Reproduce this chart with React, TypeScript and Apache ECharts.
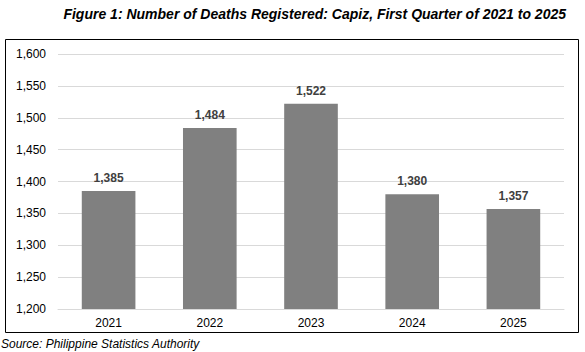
import React, { useEffect, useRef } from "react";
import * as echarts from "echarts";

const categories = ["2021", "2022", "2023", "2024", "2025"];
const deaths = [1385, 1484, 1522, 1380, 1357];
const titleText = "Figure 1: Number of Deaths Registered: Capiz, First Quarter of 2021 to 2025";
const sourceText = "Source: Philippine Statistics Authority";

const FONT = "Arial, 'Liberation Sans', sans-serif";

export default function App() {
  const ref = useRef<HTMLDivElement>(null);
  useEffect(() => {
    if (!ref.current) return;
    const chart = echarts.init(ref.current, null, { renderer: "svg" });
    chart.setOption({
      animation: false,
      backgroundColor: "#ffffff",
      textStyle: { fontFamily: FONT },
      grid: { left: 58, right: 21, top: 54, bottom: 43 },
      xAxis: {
        type: "category",
        data: categories,
        axisLine: { show: true, lineStyle: { color: "#d9d9d9", width: 1 } },
        axisTick: { show: false },
        axisLabel: { color: "#000000", fontSize: 12, fontFamily: FONT, margin: 8 },
      },
      yAxis: {
        type: "value",
        min: 1200,
        max: 1600,
        interval: 50,
        axisLine: { show: false },
        axisTick: { show: false },
        splitLine: { lineStyle: { color: "#d9d9d9", width: 1 } },
        axisLabel: {
          color: "#000000",
          fontSize: 12,
          fontFamily: FONT,
          margin: 12,
          formatter: (v: number) => v.toLocaleString("en-US"),
        },
      },
      series: [
        {
          type: "bar",
          data: deaths,
          barWidth: "53%",
          itemStyle: { color: "#808080" },
          label: {
            show: true,
            position: "top",
            distance: 7,
            color: "#404040",
            fontWeight: "bold",
            fontSize: 12,
            fontFamily: FONT,
            formatter: (p: any) => Number(p.value).toLocaleString("en-US"),
          },
        },
      ],
      graphic: [
        {
          type: "rect",
          shape: { x: 5.5, y: 39.5, width: 573, height: 293 },
          style: { fill: "none", stroke: "#000000", lineWidth: 1 },
          silent: true,
        },
        {
          type: "text",
          x: 566,
          y: 14,
          style: {
            text: titleText,
            fill: "#000000",
            font: `italic bold 14px ${FONT}`,
            align: "right",
            verticalAlign: "middle",
          },
        },
        {
          type: "text",
          x: 1,
          y: 344,
          style: {
            text: sourceText,
            fill: "#000000",
            font: `italic 12px ${FONT}`,
            align: "left",
            verticalAlign: "middle",
          },
        },
      ],
    });
    return () => chart.dispose();
  }, []);
  return (
    <div
      ref={ref}
      style={{ position: "absolute", left: 0, top: 0, width: 585, height: 352 }}
    />
  );
}
